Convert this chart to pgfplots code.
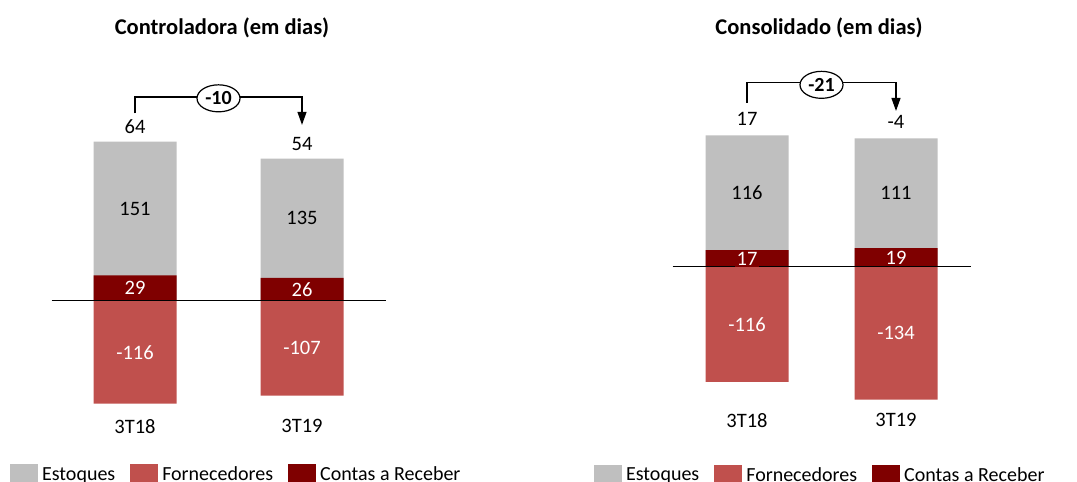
\documentclass[border=0pt]{standalone}
\usepackage{fontspec}
\setmainfont{Carlito}
\usepackage{pgfplots}
\pgfplotsset{compat=1.18}
\usetikzlibrary{arrows.meta,shapes.geometric}
\definecolor{cEst}{HTML}{BFBFBF}
\definecolor{cFor}{HTML}{C0504D}
\definecolor{cCon}{HTML}{7F0000}
\newcommand{\fs}{\fontsize{20.5bp}{24bp}\selectfont}
\newcommand{\fl}{\fontsize{20bp}{24bp}\selectfont}
\newcommand{\ft}{\fontsize{22.5bp}{26bp}\selectfont\bfseries}
\tikzset{circ/.style={ellipse, draw, fill=white, line width=1.2bp, inner sep=0pt,
   minimum width=43bp, minimum height=27bp, font=\fl\bfseries}}
\pgfplotsset{
 panel/.style={
  anchor=origin, xmin=-0.5, xmax=1.5, enlargelimits=false, clip=false,
  axis line style={draw=none}, tick style={draw=none}, ytick=\empty,
  xtick={0,1}, xticklabels={3T18,3T19},
  ticklabel style={font=\fs}, xticklabel style={yshift=-2.5bp},
  legend columns=3,
  legend style={draw=none, font=\fl, inner sep=0pt, outer sep=0pt, anchor=west,
    nodes={inner sep=4bp}, /tikz/every even column/.append style={column sep=11bp}},
 },
 bars/.style={ybar, bar width=83bp, bar shift=0pt, draw=none, fill=#1,
   legend image code/.code={\fill[#1] (0bp,-8.5bp) rectangle (28bp,10.5bp);}},
 lbl/.style={draw=none, forget plot, nodes near coords, point meta=explicit symbolic,
   every node near coord/.append style={font=\fs, anchor=center, text=#1}},
}
\begin{document}
\begin{tikzpicture}
\useasboundingbox (0,0) rectangle (1077bp,482bp);
\node[font=\ft] at (222bp,454bp) {Controladora (em dias)};
\node[font=\ft] at (819bp,454bp) {Consolidado (em dias)};
% Left panel
\begin{axis}[panel, at={(135bp,181bp)}, x=167bp, y=0.885bp, ymin=-127, ymax=200,
  legend style={at={(-0.124,-0.212)}}]
\addplot[bars=cEst] coordinates {(0,180) (1,161)};
\addlegendentry{Estoques}
\addplot[bars=cFor] coordinates {(0,-116) (1,-107)};
\addlegendentry{Fornecedores}
\addplot[bars=cCon] coordinates {(0,29) (1,26)};
\addlegendentry{Contas a Receber}
\addplot[black, line width=1bp, forget plot] coordinates {(-0.5,0) (1.5,0)};
\addplot[lbl=black] coordinates {(0,104.5)[151] (1,93.5)[135]};
\addplot[lbl=white] coordinates {(0,-58)[-116] (1,-53.5)[-107]};
\addplot[lbl=white] coordinates {(0,14.5)[29] (1,13)[26]};
\addplot[draw=none, forget plot, nodes near coords, point meta=explicit symbolic,
   every node near coord/.append style={font=\fs, anchor=south, text=black, yshift=4.5bp}]
   coordinates {(0,180)[64] (1,161)[54]};
\draw[line width=1.2bp, -{Triangle[length=13bp,width=9bp]}] (axis cs:0,212) |- (axis cs:1,230.5) -- (axis cs:1,199);
\node[circ] at (axis cs:0.5,229) {-10};
\end{axis}
% Right panel
\begin{axis}[panel, at={(747bp,215bp)}, x=149bp, y=0.99bp, ymin=-142, ymax=200,
  legend style={at={(-0.263,-0.2)}}]
\addplot[bars=cEst] coordinates {(0,133) (1,130)};
\addlegendentry{Estoques}
\addplot[bars=cFor] coordinates {(0,-116) (1,-134)};
\addlegendentry{Fornecedores}
\addplot[bars=cCon] coordinates {(0,17) (1,19)};
\addlegendentry{Contas a Receber}
\addplot[black, line width=1bp, forget plot] coordinates {(-0.5,0) (1.5,0)};
\addplot[lbl=black] coordinates {(0,75)[116] (1,74.5)[111]};
\addplot[lbl=white] coordinates {(0,-58)[-116] (1,-67)[-134]};
\addplot[draw=none, forget plot, nodes near coords, point meta=explicit symbolic,
   every node near coord/.append style={font=\fs, anchor=center, text=white, fill=cCon, inner sep=1.5bp}]
   coordinates {(0,8.5)[17] (1,9.5)[19]};
\addplot[draw=none, forget plot, nodes near coords, point meta=explicit symbolic,
   every node near coord/.append style={font=\fs, anchor=south, text=black, yshift=6bp}]
   coordinates {(0,133)[17] (1,130)[-4]};
\draw[line width=1.2bp, -{Triangle[length=13bp,width=9bp]}] (axis cs:0,165.7) |- (axis cs:1,186) -- (axis cs:1,157.6);
\node[circ] at (axis cs:0.5,184) {-21};
\end{axis}
\end{tikzpicture}
\end{document}
